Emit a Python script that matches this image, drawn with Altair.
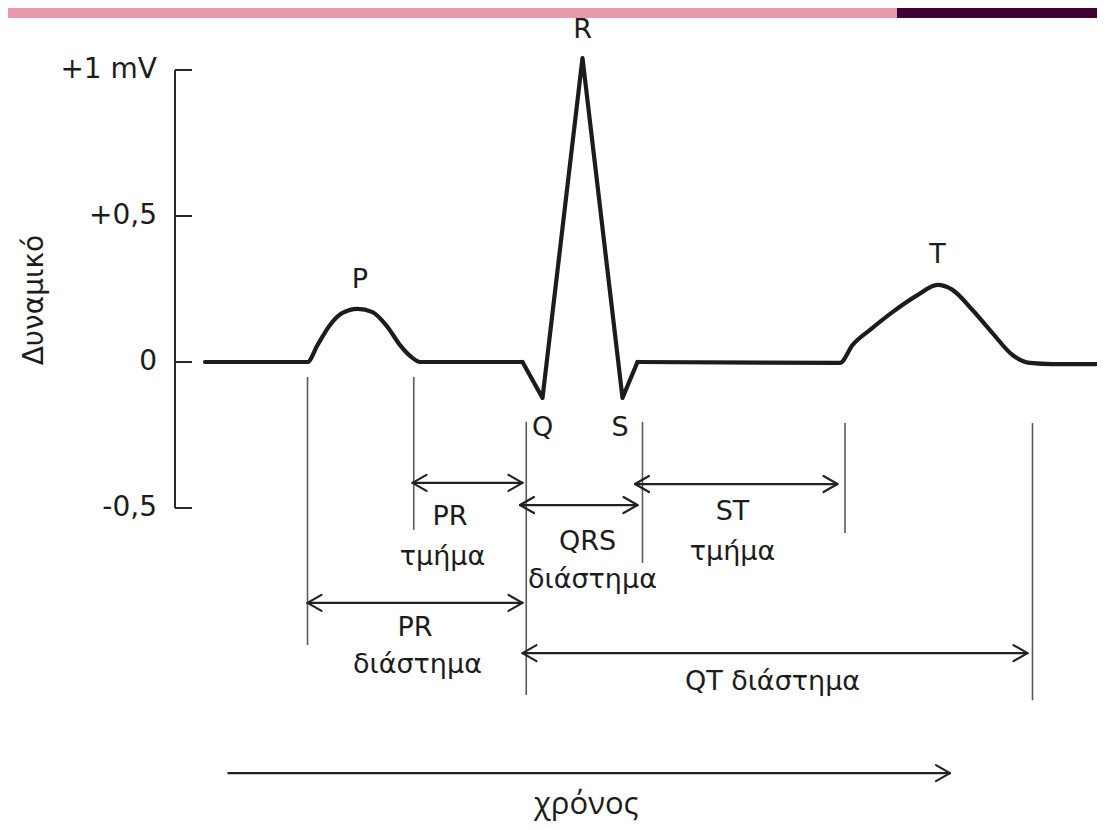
import altair as alt
import pandas as pd

# ---------------- data ----------------
# ECG trace: time (ms) and potential (mV)
p_part_t = [24, 106, 114, 124, 134, 146, 158, 170, 180, 190, 196, 278]
p_part_v = [0.0, 0.0, 0.058, 0.127, 0.168, 0.182, 0.171, 0.120, 0.058, 0.014, 0.0, 0.0]
qrs_t = [278, 294, 326, 358, 370]
qrs_v = [0.0, -0.123, 1.041, -0.123, 0.0]
t_part_t = [370, 532, 542, 556, 574, 594, 610, 622, 638, 654, 670, 684, 702, 737]
t_part_v = [0.0, -0.003, 0.058, 0.110, 0.171, 0.229, 0.264, 0.247, 0.178, 0.099, 0.024, -0.003, -0.007, -0.007]

# potential axis
tick_values = [1.0, 0.5, 0.0, -0.5]
tick_labels = ["+1 mV", "+0,5", "0", "-0,5"]
axis_title = "Δυναμικό"

# event markers (thin vertical lines)
marker_t = [106, 191, 281, 374, 536, 686]
marker_top = [-0.051, -0.051, -0.205, -0.205, -0.209, -0.209]
marker_bottom = [-0.969, -0.575, -1.140, -0.688, -0.586, -1.158]

# interval arrows
arrow_start = [190, 276, 368, 106, 278, 42]
arrow_end = [278, 370, 530, 278, 682, 620]
arrow_level = [-0.414, -0.490, -0.418, -0.825, -0.997, -1.408]
arrow_double = [True, True, True, True, True, False]

# wave letters
wave_labels = ["P", "R", "T", "Q", "S"]
wave_label_t = [148, 326, 610, 294, 356]
wave_label_v = [0.281, 1.137, 0.366, -0.226, -0.226]

# interval captions
note_text = ["PR", "τμήμα", "QRS", "διάστημα", "ST", "τμήμα", "PR", "διάστημα", "QT διάστημα"]
note_t = [220, 214, 330, 334, 446, 446, 192, 194, 478]
note_v = [-0.531, -0.668, -0.616, -0.747, -0.514, -0.651, -0.911, -1.038, -1.096]

time_label = "χρόνος"
time_label_t = [329]
time_label_v = [-1.517]

# ---------------- layout / style ----------------
W, H = 1089, 814
PX_PER_MS = 1.25
PX_PER_MV = 292.0
AXIS_PX_X = 167      # plot-x position of the potential axis (t = 0)
ZERO_PX_Y = 354      # plot-y position of 0 mV
X0 = -AXIS_PX_X / PX_PER_MS
X1 = X0 + W / PX_PER_MS
Y1 = ZERO_PX_Y / PX_PER_MV
Y0 = Y1 - H / PX_PER_MV
TICK_LEN = 17 / PX_PER_MS
HEAD_LEN = 14 / PX_PER_MS
HEAD_HALF = 8 / PX_PER_MV
FONT = "DejaVu Sans"
INK = "#1c1c1c"

xs = alt.Scale(domain=[X0, X1], nice=False, zero=False)
ys = alt.Scale(domain=[Y0, Y1], nice=False, zero=False)


def X(f):
    return alt.X(f, type="quantitative", scale=xs, axis=None)


def Y(f):
    return alt.Y(f, type="quantitative", scale=ys, axis=None)


def X2(f):
    return alt.X2(f)


def Y2(f):
    return alt.Y2(f)


# ---------------- tables ----------------
smooth = pd.DataFrame({
    "t": p_part_t + t_part_t,
    "v": p_part_v + t_part_v,
    "part": ["p"] * len(p_part_t) + ["t"] * len(t_part_t),
})
qrs = pd.DataFrame({"t": qrs_t, "v": qrs_v})

axis_line = pd.DataFrame({"t": [0], "v": [min(tick_values)], "v2": [max(tick_values)]})
ticks = pd.DataFrame({"t": [0] * len(tick_values), "t2": [TICK_LEN] * len(tick_values),
                      "v": tick_values, "label": tick_labels})

markers = pd.DataFrame({"t": marker_t, "top": marker_top, "bottom": marker_bottom})

shafts = pd.DataFrame({"a": arrow_start, "b": arrow_end, "v": arrow_level})

head_rows = []
for a, b, v, dbl in zip(arrow_start, arrow_end, arrow_level, arrow_double):
    for s in (1, -1):
        head_rows.append({"t": b, "v": v, "t2": b - HEAD_LEN, "v2": v + s * HEAD_HALF})
        if dbl:
            head_rows.append({"t": a, "v": v, "t2": a + HEAD_LEN, "v2": v + s * HEAD_HALF})
heads = pd.DataFrame(head_rows)

letters = pd.DataFrame({"t": wave_label_t, "v": wave_label_v, "label": wave_labels})
notes = pd.DataFrame({"t": note_t, "v": note_v, "label": note_text})
time_df = pd.DataFrame({"t": time_label_t, "v": time_label_v, "label": [time_label]})
title_df = pd.DataFrame({"t": [-112], "v": [0.212], "label": [axis_title]})
band_df = pd.DataFrame({"k": [0]})

# ---------------- marks ----------------
band_pink = alt.Chart(band_df).mark_rect(color="#e599aa").encode(
    x=alt.value(0), x2=alt.value(889), y=alt.value(0), y2=alt.value(10))
band_dark = alt.Chart(band_df).mark_rect(color="#3f0132").encode(
    x=alt.value(889), x2=alt.value(W), y=alt.value(0), y2=alt.value(10))

axis_rule = alt.Chart(axis_line).mark_rule(color="#2a2a2a", strokeWidth=2).encode(
    x=X("t"), y=Y("v"), y2=Y2("v2"))
tick_rules = alt.Chart(ticks).mark_rule(color="#2a2a2a", strokeWidth=2).encode(
    x=X("t"), x2=X2("t2"), y=Y("v"))
tick_text = alt.Chart(ticks).mark_text(
    font=FONT, fontSize=28, align="right", baseline="middle", dx=-18, color=INK
).encode(x=X("t"), y=Y("v"), text="label:N")
title_text = alt.Chart(title_df).mark_text(
    font=FONT, fontSize=28, align="center", baseline="middle", angle=270, color=INK
).encode(x=X("t"), y=Y("v"), text="label:N")

marker_rules = alt.Chart(markers).mark_rule(color="#5a5a5a", strokeWidth=1.6).encode(
    x=X("t"), y=Y("top"), y2=Y2("bottom"))

shaft_rules = alt.Chart(shafts).mark_rule(color="#222222", strokeWidth=2.2).encode(
    x=X("a"), x2=X2("b"), y=Y("v"))
head_rules = alt.Chart(heads).mark_rule(color="#222222", strokeWidth=2.2, strokeCap="round").encode(
    x=X("t"), x2=X2("t2"), y=Y("v"), y2=Y2("v2"))

trace_smooth = alt.Chart(smooth).mark_line(
    interpolate="monotone", strokeWidth=4.2, color=INK, strokeCap="round", strokeJoin="round"
).encode(x=X("t"), y=Y("v"), detail="part:N")
trace_qrs = alt.Chart(qrs).mark_line(
    interpolate="linear", strokeWidth=4.2, color=INK, strokeCap="round", strokeJoin="round"
).encode(x=X("t"), y=Y("v"))

letter_text = alt.Chart(letters).mark_text(
    font=FONT, fontSize=27, align="center", baseline="middle", color=INK
).encode(x=X("t"), y=Y("v"), text="label:N")
note_marks = alt.Chart(notes).mark_text(
    font=FONT, fontSize=27, align="center", baseline="middle", color=INK
).encode(x=X("t"), y=Y("v"), text="label:N")
time_text = alt.Chart(time_df).mark_text(
    font="Open Sans", fontSize=31, align="center", baseline="middle", color=INK
).encode(x=X("t"), y=Y("v"), text="label:N")

chart = alt.layer(
    band_pink, band_dark,
    marker_rules, shaft_rules, head_rules,
    axis_rule, tick_rules, tick_text, title_text,
    trace_smooth, trace_qrs,
    letter_text, note_marks, time_text,
).properties(
    width=W, height=H, padding=0, autosize=alt.AutoSizeParams(type="none"),
    background="white",
).configure_view(stroke=None)

chart.save("out.html", embed_options={"renderer": "svg", "actions": False})
